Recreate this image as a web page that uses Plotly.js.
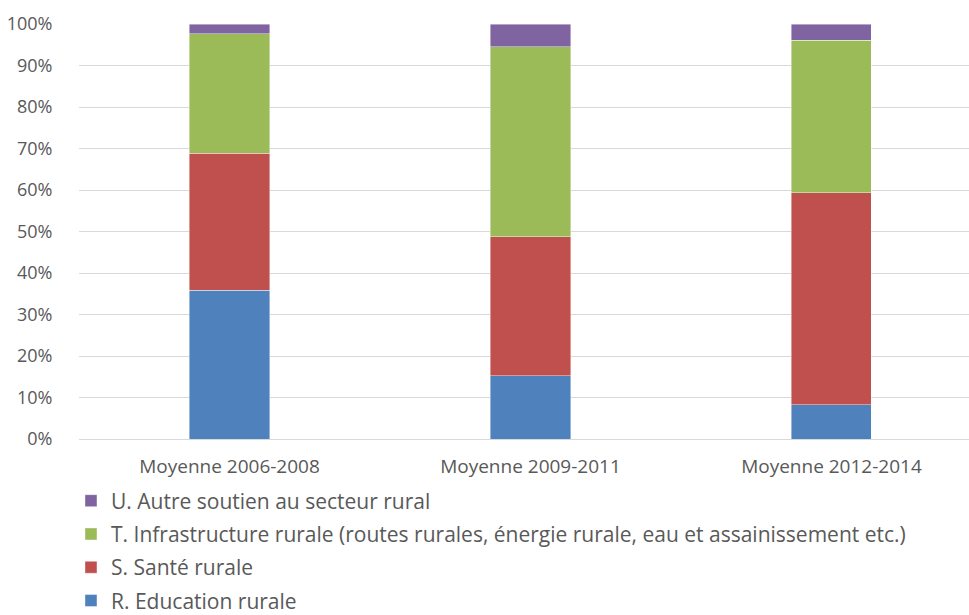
<!DOCTYPE html>
<html>
<head>
<meta charset="utf-8">
<script src="https://cdn.plot.ly/plotly-3.0.1.min.js"></script>
<style>html,body{margin:0;padding:0;background:#fff;}#chart{width:969px;height:615px;}</style>
</head>
<body>
<div id="chart"></div>
<script>
const categories = ["Moyenne 2006-2008", "Moyenne 2009-2011", "Moyenne 2012-2014"];
const seriesNames = [
  "R. Education rurale",
  "S. Santé rurale",
  "T. Infrastructure rurale (routes rurales, énergie rurale, eau et assainissement etc.)",
  "U. Autre soutien au secteur rural"
];
const educationRurale = [35.9, 15.2, 8.2];
const santeRurale = [33.0, 33.5, 51.1];
const infrastructureRurale = [28.7, 45.8, 36.8];
const autreSoutien = [2.4, 5.5, 3.9];
const yTickVals = [0, 10, 20, 30, 40, 50, 60, 70, 80, 90, 100];
const yTickText = ["0%", "10%", "20%", "30%", "40%", "50%", "60%", "70%", "80%", "90%", "100%"];

const colors = ["#4F81BD", "#C0504D", "#9BBB59", "#8064A2"];
const values = [educationRurale, santeRurale, infrastructureRurale, autreSoutien];

const FONT = "Open Sans, Noto Sans, sans-serif";
const traces = values.map((v, i) => ({
  type: "bar",
  name: seriesNames[i],
  legendgroup: "g" + i,
  legendrank: 1000 - i,
  x: [0, 1, 2],
  y: v,
  width: 0.266,
  marker: {color: colors[i], line: {color: "rgba(255,255,255,0.6)", width: 0.7}},
  hoverinfo: "skip"
}));

const layout = {
  width: 969,
  height: 615,
  barmode: "stack",
  paper_bgcolor: "#ffffff",
  plot_bgcolor: "#ffffff",
  margin: {l: 79, r: 0, t: 24, b: 176, pad: 0, autoexpand: false},
  font: {family: FONT, color: "#595959"},
  showlegend: true,
  xaxis: {
    range: [-0.5, 2.457],
    tickvals: [0, 1, 2],
    ticktext: categories,
    tickfont: {size: 19, color: "#595959", family: FONT},
    showgrid: false,
    zeroline: false,
    showline: false,
    ticks: "outside",
    ticklen: 10,
    tickcolor: "rgba(0,0,0,0)",
    automargin: false,
    fixedrange: true
  },
  yaxis: {
    range: [0, 100],
    tickvals: yTickVals,
    ticktext: yTickText,
    tickfont: {size: 18, color: "#595959", family: FONT},
    showgrid: true,
    gridcolor: "#d9d9d9",
    gridwidth: 1,
    zeroline: true,
    zerolinecolor: "#d9d9d9",
    zerolinewidth: 1,
    showline: false,
    ticks: "outside",
    ticklen: 22,
    tickcolor: "rgba(0,0,0,0)",
    automargin: false,
    fixedrange: true
  },
  legend: {
    orientation: "v",
    traceorder: "grouped",
    x: -0.009,
    xanchor: "left",
    y: -0.1,
    yanchor: "top",
    font: {size: 21, color: "#595959", family: FONT},
    itemwidth: 30,
    tracegroupgap: 3,
    bgcolor: "rgba(0,0,0,0)"
  }
};

Plotly.newPlot("chart", traces, layout, {displayModeBar: false, staticPlot: true});
</script>
</body>
</html>
